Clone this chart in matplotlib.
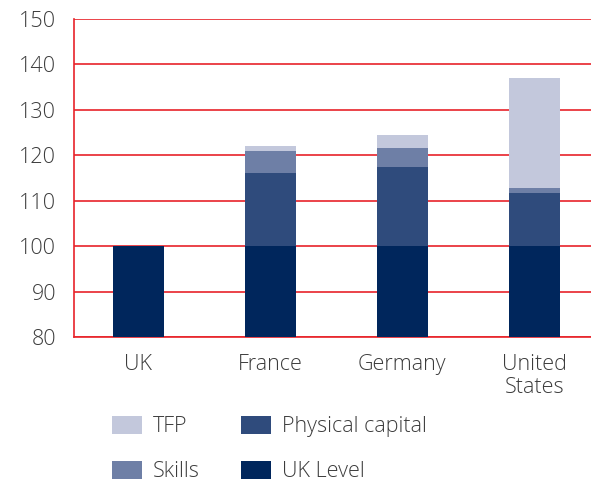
import matplotlib
matplotlib.use('Agg')
import matplotlib.pyplot as plt
import numpy as np

# data
countries = ['UK', 'France', 'Germany', 'United\nStates']
uk_level = [100, 100, 100, 100]
physical_capital = [0, 16.0, 17.5, 11.8]
skills = [0, 5.0, 4.2, 0.9]
tfp = [0, 1.0, 2.8, 24.3]

red = '#e8232a'
grey = '#3c3c3c'
plt.rcParams['font.family'] = ['Open Sans', 'DejaVu Sans']
plt.rcParams['font.weight'] = 'light'

fig = plt.figure(figsize=(5.91, 4.84), dpi=100)
ax = fig.add_axes([74 / 591, 147 / 484, 517 / 591, 318 / 484])

x = np.arange(len(countries))
w = 0.385
base = np.array(uk_level, dtype=float)
b1 = ax.bar(x, uk_level, w, color='#00265c', label='UK Level', zorder=3)
b2 = ax.bar(x, physical_capital, w, bottom=base, color='#2f4b7c', label='Physical capital', zorder=3)
base = base + physical_capital
b3 = ax.bar(x, skills, w, bottom=base, color='#6e7fa6', label='Skills', zorder=3)
base = base + skills
b4 = ax.bar(x, tfp, w, bottom=base, color='#c3c8dc', label='TFP', zorder=3)

ax.set_ylim(80, 150)
ax.set_xlim(-0.488, 3.43)
ax.set_yticks(range(80, 151, 10))
ax.set_xticks(x)
ax.set_xticklabels(countries)
ax.yaxis.grid(True, color=red, lw=1.2, zorder=0)
ax.set_axisbelow(True)

for s in ['top', 'right']:
    ax.spines[s].set_visible(False)
for s in ['left', 'bottom']:
    ax.spines[s].set_color(red)
    ax.spines[s].set_linewidth(1.2)
ax.tick_params(axis='both', length=0, labelsize=15.5, labelcolor=grey)
ax.tick_params(axis='y', pad=13)
ax.tick_params(axis='x', pad=12.5)
for t in ax.get_xticklabels():
    t.set_linespacing(1.1)

fig.legend(handles=[b4, b3, b2, b1], ncol=2, frameon=False,
           loc='upper left', bbox_to_anchor=(112 / 591, 1 - 416 / 484),
           fontsize=15.5, labelcolor=grey, borderpad=0, borderaxespad=0,
           handlelength=1.4, handleheight=0.88, handletextpad=0.5,
           columnspacing=1.9, labelspacing=1.1)

fig.savefig('out.png', dpi=100)
